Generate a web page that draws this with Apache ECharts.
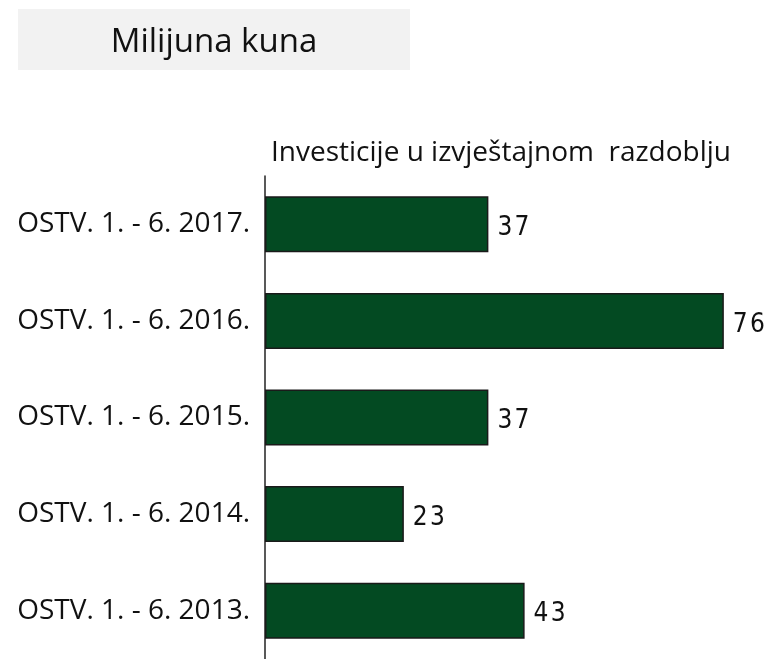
<!DOCTYPE html>
<html>
<head>
<meta charset="utf-8">
<script src="https://cdn.jsdelivr.net/npm/echarts@6/dist/echarts.min.js"></script>
<style>
  html, body { margin: 0; padding: 0; background: #fff; }
  #chart { width: 767px; height: 659px; }
</style>
</head>
<body>
<div id="chart"></div>
<script>
// kategorije odozgo prema dolje
let categories = [
  'OSTV. 1. - 6. 2017.',
  'OSTV. 1. - 6. 2016.',
  'OSTV. 1. - 6. 2015.',
  'OSTV. 1. - 6. 2014.',
  'OSTV. 1. - 6. 2013.'
]
let investments = [37, 76, 37, 23, 43]
let unitTitle = 'Milijuna kuna'
let seriesName = 'Investicije u izvještajnom  razdoblju'

let font = '"Open Sans", "Noto Sans", sans-serif'
let chart = echarts.init(document.getElementById('chart'))

chart.setOption({
  animation: false,
  graphic: [
    {
      type: 'rect',
      left: 18,
      top: 9,
      shape: { width: 392, height: 61 },
      style: { fill: '#f2f2f2' }
    },
    {
      type: 'text',
      x: 214,
      y: 43,
      style: {
        text: unitTitle,
        font: '33px ' + font,
        fill: '#111',
        textAlign: 'center',
        textVerticalAlign: 'middle'
      }
    },
    {
      type: 'text',
      x: 271,
      y: 153,
      style: {
        text: seriesName,
        font: '28px ' + font,
        fill: '#111',
        textAlign: 'left',
        textVerticalAlign: 'middle'
      }
    }
  ],
  grid: {
    left: 265,
    top: 176,
    width: 483,
    height: 487,
    containLabel: false
  },
  xAxis: {
    type: 'value',
    min: 0,
    max: 80,
    show: false
  },
  yAxis: {
    type: 'category',
    inverse: true,
    data: categories,
    axisLine: { show: true, lineStyle: { color: '#222', width: 1.5 } },
    axisTick: { show: false },
    axisLabel: {
      margin: 15,
      fontSize: 28,
      fontFamily: font,
      color: '#111'
    }
  },
  series: [{
    type: 'bar',
    data: investments,
    barWidth: 56,
    itemStyle: {
      color: '#034a22',
      borderColor: '#1a1a1a',
      borderWidth: 1.5
    },
    label: {
      show: true,
      position: 'right',
      distance: 9,
      offset: [0, 4],
      fontSize: 26,
      fontFamily: '"Liberation Sans Narrow", "DejaVu Sans Condensed", sans-serif',
      color: '#111',
      formatter: p => p.value.toString().split('').join('\u200a')
    }
  }]
})
</script>
</body>
</html>
